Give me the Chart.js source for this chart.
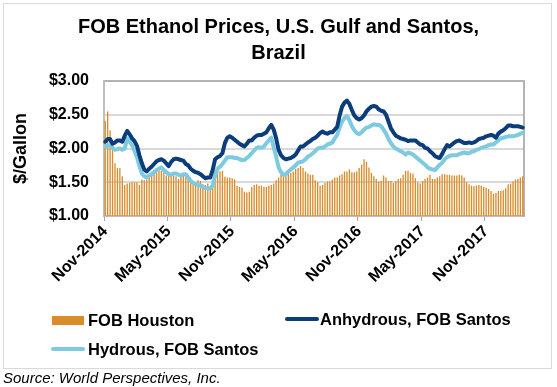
<!DOCTYPE html>
<html><head><meta charset="utf-8">
<script src="https://cdn.jsdelivr.net/npm/chart.js@4.4.1/dist/chart.umd.min.js"></script>
<style>
html,body{margin:0;padding:0;background:#fff;}
body{width:557px;height:387px;position:relative;overflow:hidden;font-family:'Liberation Sans',Arial,sans-serif;}
#frame{position:absolute;left:3px;top:3px;width:547px;height:364px;border:1px solid #d9d9d9;}
#wrap{position:absolute;left:0;top:0;width:557px;height:387px;}
.lg{position:absolute;font-weight:bold;font-size:16.5px;line-height:18px;color:#000;white-space:nowrap;}
.sw{position:absolute;}
#src{position:absolute;left:3px;top:369px;font-style:italic;font-size:15px;line-height:17px;color:#000;white-space:nowrap;}
</style></head>
<body>
<div id="frame"></div>
<div id="wrap"><canvas id="c" width="557" height="387"></canvas></div>
<div id="legend"></div>
<div id="src">Source: World Perspectives, Inc.</div>
<script>
// ---- data (weekly, Nov-2014 .. Mar-2018), $/gallon ----
const seriesNames = ['FOB Houston', 'Anhydrous, FOB Santos', 'Hydrous, FOB Santos'];
const tickLabels = ['Nov-2014','May-2015','Nov-2015','May-2016','Nov-2016','May-2017','Nov-2017'];
const weeksPerTick = 26;

const fobHouston = [
2.41,2.55,2.27,1.98,1.78,1.71,1.71,1.59,1.46,1.48,1.49,1.50,1.50,1.50,1.46,1.54,1.53,1.54,1.58,1.62,
1.65,1.68,1.68,1.67,1.65,1.60,1.60,1.61,1.60,1.59,1.55,1.62,1.62,1.61,1.57,1.50,1.46,1.46,1.53,1.52,
1.47,1.46,1.48,1.41,1.52,1.62,1.67,1.66,1.67,1.58,1.57,1.57,1.56,1.54,1.45,1.43,1.42,1.36,1.35,1.36,
1.43,1.46,1.47,1.45,1.45,1.43,1.43,1.45,1.46,1.48,1.53,1.57,1.61,1.59,1.62,1.65,1.64,1.66,1.70,1.71,
1.74,1.71,1.66,1.63,1.61,1.61,1.53,1.50,1.45,1.46,1.49,1.51,1.51,1.54,1.57,1.57,1.60,1.62,1.66,1.66,
1.69,1.65,1.65,1.66,1.71,1.76,1.84,1.80,1.72,1.64,1.59,1.55,1.51,1.52,1.60,1.57,1.52,1.52,1.49,1.52,
1.55,1.56,1.61,1.67,1.67,1.64,1.63,1.56,1.50,1.48,1.52,1.55,1.57,1.61,1.55,1.55,1.57,1.59,1.62,1.62,
1.61,1.61,1.60,1.60,1.60,1.61,1.60,1.57,1.50,1.47,1.45,1.44,1.45,1.46,1.45,1.43,1.42,1.40,1.37,1.33,
1.34,1.37,1.37,1.38,1.41,1.47,1.48,1.51,1.54,1.55,1.57,1.59];

const anhydrousSantos = [
2.10,2.14,2.14,2.07,2.09,2.12,2.12,2.10,2.19,2.26,2.21,2.15,2.11,2.04,1.90,1.78,1.69,1.66,1.70,1.73,
1.77,1.81,1.83,1.84,1.82,1.78,1.74,1.80,1.84,1.85,1.84,1.83,1.82,1.77,1.75,1.70,1.67,1.65,1.64,1.62,
1.59,1.56,1.57,1.57,1.68,1.84,1.87,1.89,1.93,2.08,2.16,2.18,2.16,2.13,2.10,2.07,2.05,2.03,2.07,2.12,
2.12,2.16,2.19,2.20,2.20,2.22,2.24,2.30,2.35,2.28,2.15,1.98,1.90,1.86,1.84,1.85,1.86,1.88,1.91,1.97,
2.03,2.03,2.06,2.09,2.11,2.14,2.16,2.19,2.23,2.25,2.23,2.22,2.24,2.24,2.28,2.32,2.49,2.62,2.68,2.71,
2.66,2.57,2.49,2.45,2.43,2.45,2.49,2.55,2.59,2.62,2.63,2.62,2.58,2.56,2.55,2.50,2.40,2.30,2.24,2.19,
2.17,2.15,2.14,2.13,2.11,2.12,2.12,2.12,2.09,2.06,2.05,2.01,2.00,1.96,1.93,1.89,1.87,1.86,1.92,1.99,
2.05,2.03,2.06,2.09,2.11,2.12,2.10,2.08,2.08,2.09,2.08,2.09,2.11,2.14,2.15,2.16,2.18,2.19,2.20,2.19,
2.16,2.22,2.25,2.27,2.30,2.34,2.34,2.33,2.33,2.33,2.32,2.31];

const hydrousSantos = [
2.03,2.04,2.05,2.01,1.98,1.99,2.00,1.98,2.00,2.15,2.10,2.05,1.96,1.87,1.74,1.63,1.59,1.57,1.60,1.62,
1.65,1.68,1.70,1.72,1.68,1.65,1.62,1.61,1.63,1.63,1.61,1.60,1.62,1.62,1.57,1.52,1.49,1.47,1.46,1.45,
1.43,1.41,1.41,1.41,1.45,1.60,1.70,1.73,1.77,1.82,1.87,1.87,1.87,1.86,1.86,1.84,1.83,1.83,1.86,1.89,
1.93,1.97,2.01,2.02,2.01,2.03,2.08,2.12,2.16,2.02,1.88,1.72,1.65,1.61,1.62,1.66,1.69,1.72,1.75,1.79,
1.80,1.81,1.84,1.88,1.90,1.93,1.96,2.00,2.01,2.01,2.03,2.06,2.07,2.09,2.15,2.20,2.31,2.40,2.45,2.48,
2.42,2.33,2.27,2.23,2.21,2.24,2.28,2.31,2.32,2.34,2.36,2.35,2.35,2.33,2.28,2.22,2.14,2.08,2.03,2.00,
1.98,1.96,1.94,1.91,1.94,1.93,1.91,1.88,1.85,1.82,1.79,1.76,1.72,1.70,1.69,1.68,1.72,1.76,1.79,1.84,
1.87,1.89,1.90,1.90,1.90,1.92,1.93,1.94,1.93,1.93,1.95,1.96,1.98,1.99,2.01,2.02,2.03,2.05,2.06,2.06,
2.09,2.12,2.15,2.16,2.17,2.18,2.18,2.18,2.19,2.20,2.22,2.23];

// weekly categories
const categories = [];
{
  const start = new Date(Date.UTC(2014, 10, 7));
  for (let i = 0; i < fobHouston.length; i++) {
    const d = new Date(start.getTime() + i * 7 * 86400000);
    categories.push(d.toISOString().slice(0, 10));
  }
}

const colors = { houston: '#DA8C2A', anhydrous: '#0B3D7A', hydrous: '#7ECBE1' };
const FONT = "'Liberation Sans', Arial, sans-serif";

const ctx = document.getElementById('c').getContext('2d');
const chart = new Chart(ctx, {
  type: 'bar',
  data: {
    labels: categories,
    datasets: [
      { type: 'bar', label: seriesNames[0], data: fobHouston, backgroundColor: colors.houston,
        barPercentage: 0.55, categoryPercentage: 1.0, order: 3 },
      { type: 'line', label: seriesNames[1], data: anhydrousSantos, borderColor: colors.anhydrous,
        backgroundColor: colors.anhydrous, borderWidth: 4, pointRadius: 0, tension: 0, order: 1,
        borderJoinStyle: 'round', borderCapStyle: 'round' },
      { type: 'line', label: seriesNames[2], data: hydrousSantos, borderColor: colors.hydrous,
        backgroundColor: colors.hydrous, borderWidth: 4, pointRadius: 0, tension: 0, order: 2,
        borderJoinStyle: 'round', borderCapStyle: 'round' }
    ]
  },
  options: {
    responsive: false,
    animation: false,
    layout: { padding: { left: 0, right: 0, top: 0, bottom: 101 } },
    plugins: {
      legend: { display: false },
      tooltip: { enabled: false },
      title: {
        display: true,
        text: ['FOB Ethanol Prices, U.S. Gulf and Santos,', 'Brazil'],
        color: '#000',
        font: { family: FONT, size: 20, weight: 'bold', lineHeight: 1.3 },
        padding: { top: 14, bottom: 15 }
      }
    },
    scales: {
      x: {
        offset: true,
        grid: {
          offset: true,
          drawOnChartArea: false,
          drawTicks: true,
          tickLength: 5,
          lineWidth: 1,
          color: (c) => (c.index % weeksPerTick === 0 && c.index < categories.length) ? '#a6a6a6' : 'rgba(0,0,0,0)'
        },
        border: { display: true, color: '#bfbfbf', width: 2 },
        ticks: {
          autoSkip: false,
          maxRotation: 45,
          minRotation: 45,
          padding: 1,
          color: '#000',
          font: { family: FONT, size: 16, weight: 'bold' },
          callback: (v, i) => (i % weeksPerTick === 0) ? (tickLabels[i / weeksPerTick] || '') : ''
        },
        afterFit: (s) => { s.height = 70; }
      },
      y: {
        min: 1, max: 3,
        grid: {
          drawTicks: false,
          lineWidth: 2,
          color: (c) => (c.tick && c.tick.value === 3) ? '#b3b3b3' : '#d9d9d9'
        },
        border: { display: true, color: '#bfbfbf', width: 2 },
        ticks: {
          stepSize: 0.5,
          padding: 15,
          color: '#000',
          font: { family: FONT, size: 16, weight: 'bold' },
          callback: (v) => '$' + Number(v).toFixed(2)
        },
        title: {
          display: true, text: '$/Gallon', color: '#000',
          font: { family: FONT, size: 18, weight: 'bold' },
          padding: { top: 10, bottom: 0 }
        },
        afterFit: (s) => { s.width = 104; }
      },
      yRight: {
        position: 'right',
        min: 0, max: 1,
        grid: { drawOnChartArea: false, drawTicks: false },
        ticks: { display: false },
        border: { display: true, color: '#b3b3b3', width: 2 },
        afterFit: (s) => { s.width = 33; }
      }
    }
  }
});

// HTML legend built from the datasets
const legendPos = [
  { x: 52, y: 320, tx: 88 },
  { x: 285, y: 319, tx: 320 },
  { x: 51, y: 349, tx: 88 }
];
const lg = document.getElementById('legend');
chart.data.datasets.forEach((ds, i) => {
  const p = legendPos[i];
  const sw = document.createElement('div');
  sw.className = 'sw';
  if (ds.type === 'bar') {
    sw.style.cssText = `left:${p.x}px;top:${p.y - 4}px;width:32px;height:9px;background:${ds.backgroundColor};`;
  } else {
    sw.style.cssText = `left:${p.x}px;top:${p.y - 2}px;width:34px;height:4px;border-radius:2px;background:${ds.borderColor};`;
  }
  lg.appendChild(sw);
  const t = document.createElement('div');
  t.className = 'lg';
  t.style.left = p.tx + 'px';
  t.style.top = (p.y - 9) + 'px';
  t.textContent = ds.label;
  lg.appendChild(t);
});
</script>
</body></html>
